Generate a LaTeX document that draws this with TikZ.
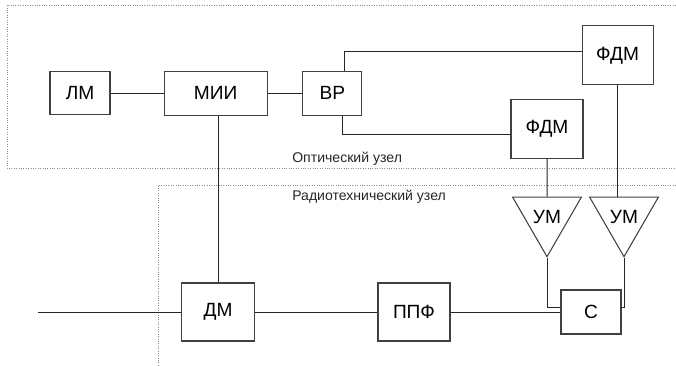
\documentclass[tikz,border=0pt]{standalone}
\usepackage{fontspec}
\setmainfont{Liberation Sans}
\usetikzlibrary{shapes.geometric,calc}

\begin{document}
\begin{tikzpicture}[
  font=\fontsize{13.6}{15}\selectfont,
  block/.style={draw=black!75, line width=0.75pt, minimum width=#1, align=center, inner sep=0pt},
  amp/.style={regular polygon, regular polygon sides=3, shape border rotate=180, draw=black!75, line width=0.75pt, minimum size=1.905cm, inner sep=0pt},
  frame/.style={densely dotted, draw=black!45, line width=0.7pt},
  caption/.style={anchor=west, inner sep=0pt, font=\fontsize{10}{12}\selectfont, text=black!85},
  wire/.style={line width=0.7pt, draw=black!85}
]
\useasboundingbox (0,0) rectangle (16.9,9.125);

%% ============ Frames ============
\draw[frame] (16.9,9.0) -- (0.175,9.0) -- (0.175,4.925) -- (16.9,4.925);
\draw[frame] (16.9,4.5) -- (3.95,4.5) -- (3.95,0);
\node[caption] (optcap) at (7.3,5.15) {Оптический узел};
\node[caption] (radcap) at (7.3,4.2)  {Радиотехнический узел};

%% ============ Optical part ============
\node[block=1.5cm,   minimum height=1.075cm] (lm)   at (2.0,6.79)    {ЛМ};
\node[block=2.575cm, minimum height=1.1cm]   (mii)  at (5.39,6.79)   {МИИ};
\node[block=1.475cm, minimum height=1.1cm]   (vr)   at (8.31,6.79)   {ВР};
\node[block=1.775cm, minimum height=1.475cm] (fdma) at (15.44,7.74)  {ФДМ};
\node[block=1.8cm,   minimum height=1.475cm] (fdmb) at (13.675,5.91) {ФДМ};

\draw[wire] (lm) -- (mii);
\draw[wire] (mii) -- (vr);
\draw[wire] ($(vr.north west)+(1.05,0)$) |- ($(fdma.west)+(0,0.11)$);
\draw[wire] ($(vr.south west)+(1.0,0)$) |- ($(fdmb.west)+(0,-0.15)$);

%% ============ Radio part ============
\coordinate (in) at (0.95,1.325);
\node[block=1.825cm, minimum height=1.45cm] (dm)  at (5.45,1.325)   {ДМ};
\node[block=1.8cm,   minimum height=1.45cm] (ppf) at (10.35,1.325)  {ППФ};
\node[block=1.5cm,   minimum height=1.1cm]  (sm)  at (14.775,1.325) {С};
\node[amp] (uma) at (13.675,3.7) {УМ};
\node[amp] (umb) at (15.6,3.7)   {УМ};

\draw[wire] (in) -- (dm);
\draw[wire] (mii.south -| dm.north) -- (dm.north);
\draw[wire] (dm) -- (ppf);
\draw[wire] (ppf) -- (sm);

%% amplifiers: fed from the detectors, joined to the summer from both sides
\draw[wire] (fdmb.south) -- (uma.north);
\draw[wire] (fdma.south) -- (fdma.south |- umb.north);
\draw[wire] (uma.corner 1) |- ($(sm.west)+(0,0.125)$);
\draw[wire] (umb.corner 1) |- ($(sm.east)+(0,0.125)$);

\end{tikzpicture}
\end{document}
